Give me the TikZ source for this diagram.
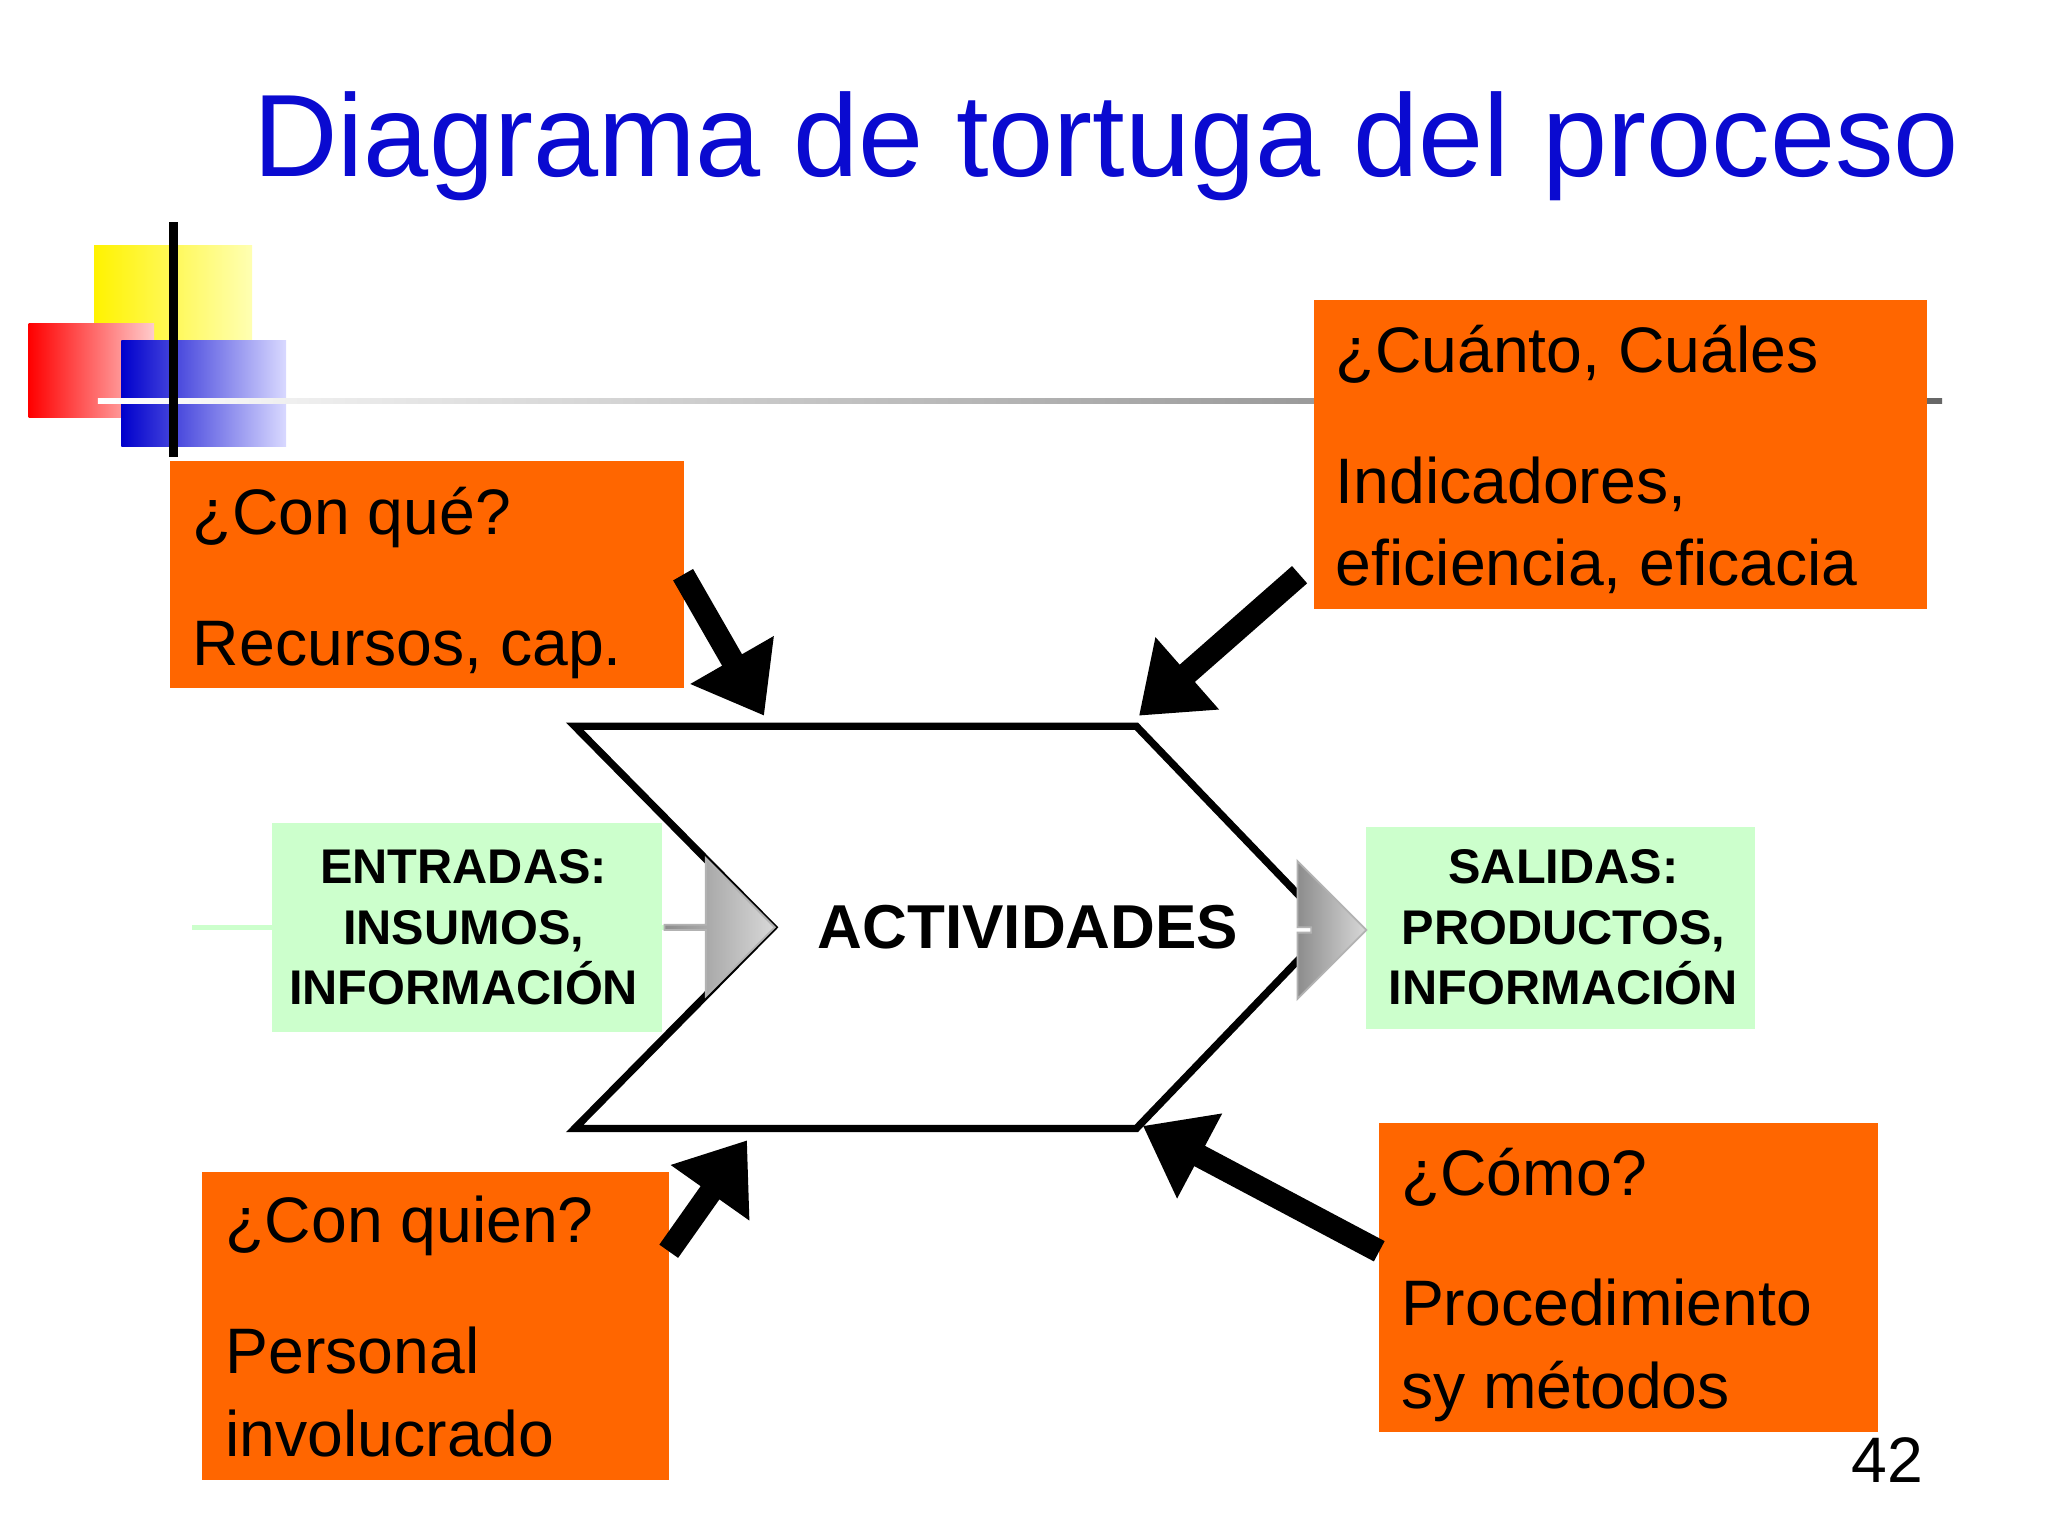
\documentclass[tikz,border=0pt]{standalone}
\usepackage{fontspec}
\setmainfont{Liberation Sans}
\usetikzlibrary{arrows.meta,shapes.arrows}
\definecolor{org}{HTML}{FF6600}
\definecolor{grn}{HTML}{CCFFCC}
\definecolor{ttl}{HTML}{0A0AD0}
\begin{document}
\begin{tikzpicture}[x=0.01cm,y=-0.01cm,
  obox/.style={fill=org,inner sep=0},
  otext/.style={anchor=north west,align=left,font=\fontsize{14}{18}\selectfont,inner sep=0},
  gtext/.style={fill=grn,align=center,font=\bfseries\fontsize{10.6}{13.2}\selectfont,inner sep=0},
  bk/.style={line width=5pt,-{Triangle[length=14pt,width=20pt]}},
  garrow/.style={single arrow,shade,left color=gray!90,right color=gray!30,draw=gray!60,inner sep=0,single arrow head extend=5pt,minimum height=#1,minimum width=30pt}]
\useasboundingbox[fill=white] (0,0) rectangle (1568,1176);
\node[text=ttl,font=\fontsize{25.5}{30}\selectfont] (title) at (847,112) {Diagrama de tortuga del proceso};
% decoration
\shade[left color=yellow!90!orange,right color=yellow!30] (72,188) rectangle (193,262);
\shade[left color=red,right color=red!20] (22,248) rectangle (118,320);
\shade[left color=blue!80!black,right color=blue!15] (93,261) rectangle (219,342);
\shade[left color=white,right color=gray!80!black] (75,305) rectangle (1487,309);
\draw[line width=2pt] (133,170) -- (133,350);
% orange boxes
\fill[org] (130,353) rectangle (524,527);
\node[otext] (q1) at (147,372) {¿Con qué?\\[0.75em]Recursos, cap.};
\fill[org] (1006,230) rectangle (1475,466);
\node[otext] (q2) at (1022,248) {¿Cuánto, Cuáles\\[0.75em]Indicadores,\\eficiencia, eficacia};
\fill[org] (155,897) rectangle (512,1133);
\node[otext] (q3) at (172,915) {¿Con quien?\\[0.75em]Personal\\involucrado};
\fill[org] (1056,860) rectangle (1438,1096);
\node[otext] (q4) at (1072,878) {¿Cómo?\\[0.75em]Procedimiento\\sy métodos};
% center shape
\draw[line width=1.6pt,fill=white] (440,556) -- (870,556) -- (1018,710) -- (870,864) -- (440,864) -- (592,710) -- cycle;
\node[font=\bfseries\fontsize{13.5}{16}\selectfont] (act) at (787,710) {ACTIVIDADES};
% green boxes
\node[gtext,minimum width=299\pgflinewidth] (in) at (357,710) {};
\fill[grn] (208,630) rectangle (507,790);
\node[font=\bfseries\fontsize{10.6}{13.2}\selectfont,align=center] (intext) at (355,710) {ENTRADAS:\\INSUMOS,\\INFORMACIÓN};
\fill[grn] (1046,633) rectangle (1344,788);
\node[font=\bfseries\fontsize{10.6}{13.2}\selectfont,align=center] (outtext) at (1197,710) {SALIDAS:\\PRODUCTOS,\\INFORMACIÓN};
% gray arrows
\node[garrow=85\pgflinewidth*0+24pt] (ga1) at (550,710) {};
\node[garrow=12pt] (ga2) at (1024,712) {};
% black arrows
\coordinate (a1s) at (523,440); \coordinate (a1e) at (585,548);
\coordinate (a2s) at (995,440); \coordinate (a2e) at (872,548);
\coordinate (a3s) at (512,958); \coordinate (a3e) at (572,873);
\coordinate (a4s) at (1056,958); \coordinate (a4e) at (875,862);
\draw[bk] (a1s) -- (a1e);
\draw[bk] (a2s) -- (a2e);
\draw[bk] (a3s) -- (a3e);
\draw[bk] (a4s) -- (a4e);
\node[font=\fontsize{14}{16}\selectfont] (num) at (1445,1118) {42};
\end{tikzpicture}
\end{document}
